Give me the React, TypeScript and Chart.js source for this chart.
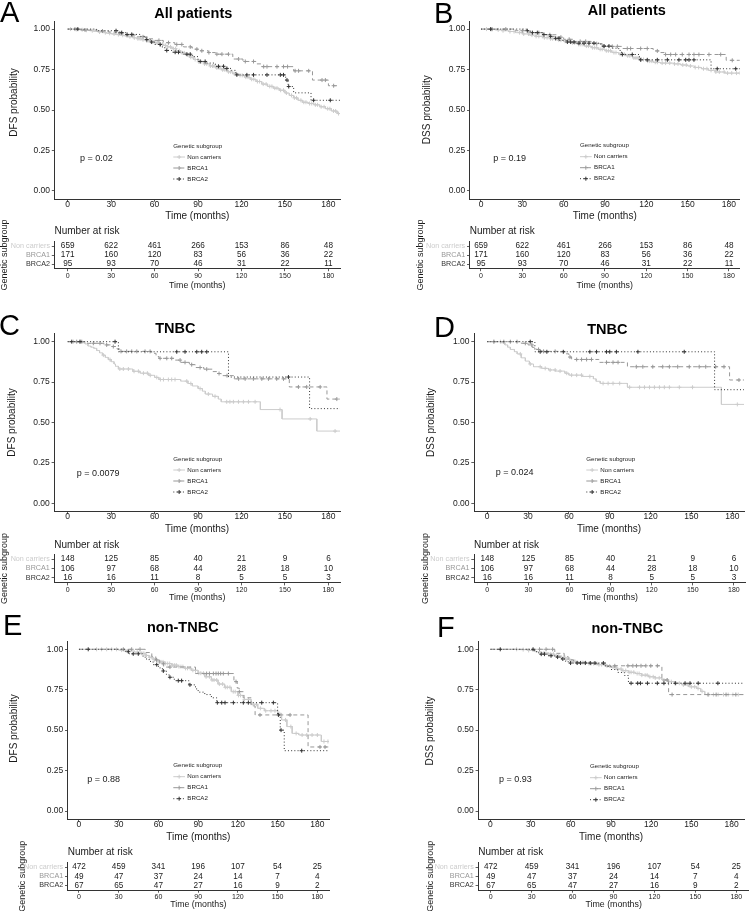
import React, { useEffect, useRef } from 'react';
import { Chart, registerables } from 'chart.js';

Chart.register(...registerables);

const FONT = "'Liberation Sans', Arial, Helvetica, sans-serif";
const W = 749;
const H = 911;

// ---------- shared labels ----------
const groupNames = ['Non carriers', 'BRCA1', 'BRCA2'];
const timeTicks = [0, 30, 60, 90, 120, 150, 180];
const probTicks = [0, 0.25, 0.5, 0.75, 1];
const followUpEnd = 189;

// ---------- numbers at risk ----------
const riskAllNc = [659, 622, 461, 266, 153, 86, 48];
const riskAllB1 = [171, 160, 120, 83, 56, 36, 22];
const riskAllB2 = [95, 93, 70, 46, 31, 22, 11];
const riskTnNc = [148, 125, 85, 40, 21, 9, 6];
const riskTnB1 = [106, 97, 68, 44, 28, 18, 10];
const riskTnB2 = [16, 16, 11, 8, 5, 5, 3];
const riskNonNc = [472, 459, 341, 196, 107, 54, 25];
const riskNonB1 = [49, 47, 37, 24, 14, 7, 4];
const riskNonB2 = [67, 65, 47, 27, 16, 9, 2];

// ---------- A: DFS, all patients ----------
const dfsAllNcT = [4, 8, 12, 15, 18, 21, 24, 27, 30, 33, 36, 39, 42, 45, 48, 51, 54, 57, 60, 63, 66, 69, 72, 75, 78, 81, 84, 87, 90, 94, 98, 102, 106, 110, 114, 118, 122, 126, 130, 134, 138, 142, 146, 150, 153, 156, 159, 162, 166, 170, 174, 178, 182, 186];
const dfsAllNcS = [0.998, 0.996, 0.993, 0.99, 0.986, 0.982, 0.978, 0.974, 0.97, 0.966, 0.962, 0.958, 0.952, 0.946, 0.94, 0.934, 0.928, 0.922, 0.915, 0.907, 0.899, 0.89, 0.879, 0.867, 0.853, 0.84, 0.826, 0.812, 0.798, 0.785, 0.772, 0.76, 0.748, 0.736, 0.724, 0.714, 0.703, 0.69, 0.676, 0.66, 0.646, 0.635, 0.622, 0.605, 0.59, 0.575, 0.56, 0.548, 0.54, 0.532, 0.52, 0.508, 0.494, 0.478];
const dfsAllNcC = [2, 6, 10, 13, 17, 22, 26, 29, 32, 35, 38, 41, 43, 46, 48.5, 50, 52, 54.5, 55.5, 57.5, 59, 61, 62, 64, 65.5, 67.5, 69, 71, 73, 74.5, 77, 79, 80.5, 83, 85, 86.5, 88, 90.5, 92, 94.5, 96, 98.5, 100, 101, 103, 104.5, 107, 108.5, 111, 112.5, 115, 116.5, 119, 120.5, 123, 124.5, 127, 128.5, 131, 132.5, 135, 137, 139.5, 141, 143, 144.5, 147, 149, 151, 154.5, 156.5, 158, 161, 163, 164.5, 167, 168.5, 171, 172.5, 175, 177, 179.5, 181, 183.5, 185, 187];
const dfsAllB1T = [8, 20, 28, 33, 40, 48, 55, 60, 66, 74, 80, 86, 90, 97, 102, 114, 121, 130, 134, 156, 169, 180];
const dfsAllB1S = [0.994, 0.988, 0.982, 0.976, 0.964, 0.952, 0.94, 0.93, 0.916, 0.905, 0.89, 0.876, 0.866, 0.855, 0.845, 0.815, 0.8, 0.785, 0.768, 0.742, 0.685, 0.65];
const dfsAllB1C = [5, 12, 24, 36, 45, 52, 63, 69.6, 75.3, 78.8, 84.6, 89.2, 92.6, 97.5, 103, 106.5, 111, 118, 122.6, 128.3, 135.3, 137.6, 144.5, 149, 151.8, 157, 159.4, 166.4, 175.6, 177.9, 183.6];
const dfsAllB2T = [20, 35, 40, 50, 54, 57, 60, 64, 67, 72, 80, 86, 90, 96, 102, 108, 113, 116, 150.5, 152.2, 156, 168];
const dfsAllB2S = [0.99, 0.978, 0.967, 0.955, 0.935, 0.92, 0.905, 0.89, 0.868, 0.857, 0.845, 0.83, 0.8, 0.79, 0.77, 0.757, 0.745, 0.717, 0.685, 0.645, 0.606, 0.56];
const dfsAllB2C = [7, 33.4, 37.3, 41, 44.2, 54.6, 58, 63.8, 68.4, 74.2, 76.5, 82.3, 84.6, 91.5, 94.9, 104.1, 107.6, 109.9, 116.8, 123.7, 128.3, 137.6, 146.8, 149, 151.4, 152.6, 169.8, 181.3];

// ---------- B: DSS, all patients ----------
const dssAllNcT = [5, 10, 15, 20, 25, 30, 35, 40, 45, 50, 55, 60, 65, 70, 75, 80, 85, 90, 95, 100, 105, 110, 115, 120, 125, 130, 140, 145, 150, 155, 160, 165, 170, 177];
const dssAllNcS = [0.998, 0.995, 0.99, 0.985, 0.978, 0.97, 0.963, 0.955, 0.947, 0.94, 0.932, 0.925, 0.915, 0.905, 0.895, 0.885, 0.875, 0.866, 0.855, 0.845, 0.835, 0.822, 0.812, 0.802, 0.795, 0.79, 0.785, 0.778, 0.772, 0.763, 0.755, 0.745, 0.735, 0.728];
const dssAllNcC = [4, 8, 12.5, 16, 21, 24, 28, 31, 34.5, 37, 40, 42, 44.5, 46, 48, 50.5, 52, 54, 56.5, 58, 61, 62.5, 64, 66.5, 68, 71, 72.5, 74, 76.5, 78, 81, 82.5, 84, 86.5, 88, 91, 92.5, 94, 96.5, 98, 101, 102.5, 104, 106.5, 108, 111, 112.5, 114, 116.5, 118, 121, 122.5, 124, 126.5, 128, 131.5, 134, 137, 140.5, 143, 146.5, 149, 152, 155.5, 158, 161.5, 164, 167, 170.5, 173, 176.5, 179, 182, 185.5, 188];
const dssAllB1T = [25, 35, 45, 55, 60, 67, 80, 88, 103, 125, 130, 133, 178];
const dssAllB1S = [0.99, 0.978, 0.965, 0.95, 0.937, 0.924, 0.91, 0.893, 0.88, 0.865, 0.855, 0.843, 0.807];
const dssAllB1C = [8, 18, 30, 42, 50, 58, 64, 72, 76, 84, 89.3, 95.3, 99, 106.2, 108.6, 115.9, 120.7, 128, 134, 137.7, 141.3, 146.1, 151, 154.6, 158.2, 165.5, 174, 182.4];
const dssAllB2T = [33, 36, 45, 50, 53, 57, 62, 68, 87, 95, 100, 102, 115, 167];
const dssAllB2S = [0.99, 0.978, 0.966, 0.955, 0.943, 0.93, 0.92, 0.913, 0.895, 0.882, 0.868, 0.843, 0.81, 0.755];
const dssAllB2C = [7, 33.6, 37.3, 40.9, 45.7, 50.6, 54.2, 56.6, 62.7, 65.1, 67.5, 71.1, 74.8, 78.4, 82, 89.3, 92.9, 102.6, 109.8, 115.9, 120.7, 128, 135.3, 143.7, 148.6, 151, 154.6, 171.5, 184.9];

// ---------- C: DFS, TNBC ----------
const dfsTnNcT = [10, 12, 14, 16, 18, 20, 22, 24, 26, 28, 30, 32, 33, 35, 45, 50, 56, 60, 63, 78, 83, 86, 90, 93, 95, 100, 104, 106, 133, 148, 172];
const dfsTnNcS = [0.993, 0.986, 0.973, 0.966, 0.959, 0.945, 0.931, 0.917, 0.903, 0.889, 0.876, 0.862, 0.848, 0.831, 0.817, 0.805, 0.792, 0.779, 0.766, 0.756, 0.741, 0.726, 0.71, 0.694, 0.676, 0.662, 0.645, 0.628, 0.58, 0.522, 0.447];
const dfsTnNcC = [3.9, 8.5, 24.6, 29.2, 36, 38.4, 41.9, 45.8, 48.8, 52.3, 55, 57, 61.5, 64, 66.1, 69.5, 71.8, 74.1, 82.2, 85, 91.4, 97.1, 101.7, 109.8, 112, 114.4, 117.9, 121.3, 124.8, 129.4, 146.6, 167.4, 184.6];
const dfsTnB1T = [12, 25, 30, 34, 36, 58, 61, 63, 74, 78, 84, 88, 94, 100, 104, 106, 115, 153, 179];
const dfsTnB1S = [0.99, 0.98, 0.97, 0.955, 0.94, 0.928, 0.908, 0.897, 0.886, 0.872, 0.858, 0.84, 0.83, 0.815, 0.803, 0.79, 0.77, 0.72, 0.645];
const dfsTnB1C = [6.2, 9.7, 17.7, 22.3, 26.9, 31.5, 36.8, 40.7, 44.2, 47.7, 53.4, 56.9, 63.8, 68.4, 71.8, 77.6, 81, 85.6, 91.4, 96, 104.5, 110, 118, 122.5, 128.2, 134, 138.6, 144.3, 149, 159.3, 165, 174.3, 185.8];
const dfsTnB2T = [35, 111, 167];
const dfsTnB2S = [0.9375, 0.7813, 0.5859];
const dfsTnB2C = [2.8, 8.5, 32.7, 75.3, 81, 89.1, 92.5, 96, 152.4];

// ---------- D: DSS, TNBC ----------
const dssTnNcT = [10, 13, 15, 17, 20, 22, 25, 28, 31, 34, 40, 45, 50, 57, 60, 70, 78, 80, 83, 103, 172];
const dssTnNcS = [0.993, 0.98, 0.966, 0.952, 0.938, 0.924, 0.9, 0.88, 0.862, 0.845, 0.835, 0.825, 0.818, 0.805, 0.793, 0.785, 0.77, 0.755, 0.742, 0.718, 0.612];
const dssTnNcC = [4.9, 9.7, 24.3, 31.6, 38.9, 42.6, 46.2, 49.9, 53.5, 58.4, 62, 65.7, 69.3, 75.4, 85.1, 88.8, 92.4, 97.3, 104.6, 111.9, 115.5, 119.2, 122.8, 126.5, 130.1, 133.8, 141.1, 150.8, 183.7];
const dssTnB1T = [25, 30, 33, 36, 40, 57, 60, 62, 82, 103, 178];
const dssTnB1S = [0.99, 0.98, 0.965, 0.952, 0.94, 0.925, 0.905, 0.89, 0.872, 0.845, 0.763];
const dssTnB1C = [4.9, 12.2, 17, 21.9, 28, 32.8, 37.7, 41.4, 49.9, 60.8, 65.7, 69.3, 73, 76.6, 87.6, 92.4, 96.1, 109.5, 114.3, 121.6, 128.9, 133.8, 139.9, 148.4, 155.7, 160.5, 167.8, 173.9, 184.9];
const dssTnB2T = [35, 167];
const dssTnB2S = [0.9375, 0.703];
const dssTnB2C = [31.6, 38.9, 43.8, 55.9, 75.4, 80.3, 87.6, 90, 94.9, 110.7, 144.7];

// ---------- E: DFS, non-TNBC ----------
const dfsNonNcT = [30, 36, 42, 47, 50, 53, 56, 60, 65, 70, 75, 80, 85, 90, 95, 100, 105, 110, 115, 120, 125, 130, 135, 140, 150, 153, 157, 161, 166, 183];
const dfsNonNcS = [0.995, 0.99, 0.982, 0.975, 0.962, 0.95, 0.935, 0.922, 0.912, 0.902, 0.893, 0.882, 0.87, 0.852, 0.83, 0.81, 0.785, 0.765, 0.738, 0.715, 0.69, 0.66, 0.635, 0.62, 0.604, 0.563, 0.522, 0.48, 0.47, 0.43];
const dfsNonNcC = [13.3, 17.1, 20.9, 24.7, 28.4, 32.2, 36.5, 44, 47.5, 49, 51, 53.5, 55, 57, 58.5, 60.5, 62, 63.5, 65.5, 67, 68.5, 70.5, 72, 73.5, 75.5, 77, 78.5, 80.5, 82, 84, 86, 88, 90.5, 92, 94, 96, 98.5, 100.5, 102, 104, 106, 108.5, 110.5, 112, 114, 116.5, 118, 120.5, 122, 125, 128, 131.5, 134, 137, 141, 145, 148, 151, 156, 160, 164, 168.5, 172, 176, 180, 185, 188];
const dfsNonB1T = [50, 55, 58, 61, 64, 88, 117, 119.5, 121, 124, 130, 133, 173];
const dfsNonB1S = [0.98, 0.955, 0.934, 0.91, 0.89, 0.85, 0.8, 0.76, 0.738, 0.7, 0.65, 0.594, 0.396];
const dfsNonB1C = [33.5, 39.8, 46.1, 58.7, 63.7, 68.7, 96.4, 98.5, 101.5, 103.5, 105.2, 107, 109, 112.8, 118.6, 121.1, 136.7, 159.4, 182, 185.8];
const dfsNonB2T = [35, 38, 48, 50, 53, 56, 60, 63, 66, 68, 72, 83, 88, 90, 95, 100, 104, 150, 152, 155];
const dfsNonB2S = [0.985, 0.972, 0.958, 0.94, 0.925, 0.905, 0.885, 0.866, 0.845, 0.827, 0.806, 0.78, 0.755, 0.735, 0.72, 0.7, 0.67, 0.594, 0.5, 0.373];
const dfsNonB2C = [7, 37.3, 41, 44.8, 58.7, 63.7, 68.7, 75, 77.5, 83.8, 104.5, 107.8, 110.3, 116.6, 124.1, 127.9, 138, 146.8, 150.6, 152.6, 168.2];

// ---------- F: DSS, non-TNBC ----------
const dssNonNcT = [20, 28, 33, 38, 43, 48, 52, 56, 60, 65, 72, 80, 86, 90, 94, 98, 103, 108, 113, 118, 123, 128, 133, 138, 143, 148, 154, 157, 160];
const dssNonNcS = [0.998, 0.993, 0.985, 0.978, 0.97, 0.96, 0.95, 0.938, 0.926, 0.918, 0.912, 0.905, 0.897, 0.89, 0.878, 0.868, 0.858, 0.85, 0.84, 0.83, 0.823, 0.81, 0.8, 0.79, 0.78, 0.768, 0.758, 0.74, 0.72];
const dssNonNcC = [19.5, 24.4, 28.5, 40, 43.5, 45, 47, 49.5, 51, 53, 55.5, 57, 59, 61.5, 63, 65, 67.5, 69, 71, 73.5, 75, 77, 79.5, 81, 83, 85.5, 87, 89, 91.5, 93, 95, 97.5, 99, 101, 103.5, 105, 107, 109.5, 111, 113, 115.5, 117, 119, 121.5, 123, 126, 129.5, 132, 135, 138.5, 141, 144, 147.5, 150, 152.5, 155, 158, 163, 166.5, 170, 174, 177.5, 181, 185];
const dssNonB1T = [48, 55, 58, 62, 75, 85, 128, 133];
const dssNonB1S = [0.975, 0.955, 0.935, 0.92, 0.91, 0.898, 0.81, 0.72];
const dssNonB1C = [36.6, 41.5, 46.4, 92.8, 102.6, 106.3, 109, 112.4, 116, 119.7, 124.6, 131.9, 135.6, 162.4, 168.5, 175.9, 183.2];
const dssNonB2T = [33, 36, 43, 48, 53, 56, 58, 86, 90, 95, 100, 103];
const dssNonB2S = [0.985, 0.97, 0.96, 0.952, 0.94, 0.925, 0.915, 0.893, 0.875, 0.857, 0.838, 0.79];
const dssNonB2C = [7.3, 31.8, 37.9, 40.3, 45.2, 50.1, 54, 59.8, 64.7, 67.2, 70.8, 74.5, 78, 84.3, 105, 109.9, 112, 117.2, 124.6, 129.5, 138, 145.3, 149, 155.1, 169.8];

// ---------- styles ----------
const groupColors = ['#cccccc', '#989898', '#333333'];
const groupDash: number[][] = [[], [4, 3], [1, 2.2]];
const TEXT = '#1a1a1a';
const AXIS = '#333333';

type Curve = [number[], number[], number[]];
interface Lay {
  l: number; r: number; t: number; b: number; xMin: number; xMax: number;
  yTitleX: number; yTitleY: number; xTitleY: number;
  tt: number; tb: number; tTitleY: number; tYTitleX: number; tXTitleY: number;
  letterX: number; letterY: number; titleX: number; titleY: number;
  pX: number; pY: number; legX: number; legY: number;
}
interface PanelDef {
  letter: string; title: string; yTitle: string; p: string;
  curves: Curve[]; risk: number[][]; lay: Lay;
}

const PANELS: PanelDef[] = [
  {
    letter: 'A', title: 'All patients', yTitle: 'DFS probability', p: 'p = 0.02',
    curves: [[dfsAllNcT, dfsAllNcS, dfsAllNcC], [dfsAllB1T, dfsAllB1S, dfsAllB1C], [dfsAllB2T, dfsAllB2S, dfsAllB2C]],
    risk: [riskAllNc, riskAllB1, riskAllB2],
    lay: { l: 54.5, r: 340, t: 21, b: 199, xMin: -9.1, xMax: 188, yTitleX: 14.2, yTitleY: 102.5, xTitleY: 216.2,
      tt: 241.5, tb: 268.5, tTitleY: 231.7, tYTitleX: 4.5, tXTitleY: 285.3,
      letterX: 0, letterY: 22, titleX: 193.3, titleY: 18.3, pX: 80, pY: 159, legX: 173.3, legY: 146 },
  },
  {
    letter: 'B', title: 'All patients', yTitle: 'DSS probability', p: 'p = 0.19',
    curves: [[dssAllNcT, dssAllNcS, dssAllNcC], [dssAllB1T, dssAllB1S, dssAllB1C], [dssAllB2T, dssAllB2S, dssAllB2C]],
    risk: [riskAllNc, riskAllB1, riskAllB2],
    lay: { l: 469.7, r: 739.7, t: 21, b: 199, xMin: -8.2, xMax: 187.8, yTitleX: 427.3, yTitleY: 109.7, xTitleY: 216,
      tt: 241.5, tb: 268.5, tTitleY: 231.7, tYTitleX: 420.5, tXTitleY: 285.3,
      letterX: 434, letterY: 23, titleX: 626.8, titleY: 15, pX: 493.3, pY: 159, legX: 580, legY: 145.7 },
  },
  {
    letter: 'C', title: 'TNBC', yTitle: 'DFS probability', p: 'p = 0.0079',
    curves: [[dfsTnNcT, dfsTnNcS, dfsTnNcC], [dfsTnB1T, dfsTnB1S, dfsTnB1C], [dfsTnB2T, dfsTnB2S, dfsTnB2C]],
    risk: [riskTnNc, riskTnB1, riskTnB2],
    lay: { l: 54.3, r: 340, t: 333.6, b: 511.4, xMin: -9.25, xMax: 188, yTitleX: 12.2, yTitleY: 422.5, xTitleY: 529.5,
      tt: 554.3, tb: 582.7, tTitleY: 545.5, tYTitleX: 4.5, tXTitleY: 597.5,
      letterX: -1, letterY: 335, titleX: 175.3, titleY: 333.3, pX: 76.7, pY: 473.3, legX: 173.3, legY: 459 },
  },
  {
    letter: 'D', title: 'TNBC', yTitle: 'DSS probability', p: 'p = 0.024',
    curves: [[dssTnNcT, dssTnNcS, dssTnNcC], [dssTnB1T, dssTnB1S, dssTnB1C], [dssTnB2T, dssTnB2S, dssTnB2C]],
    risk: [riskTnNc, riskTnB1, riskTnB2],
    lay: { l: 474, r: 745.7, t: 333.6, b: 511.4, xMin: -9.7, xMax: 188.6, yTitleX: 431.5, yTitleY: 422.5, xTitleY: 529.5,
      tt: 554.3, tb: 582.7, tTitleY: 545.5, tYTitleX: 426, tXTitleY: 597.5,
      letterX: 434, letterY: 337, titleX: 607.3, titleY: 334.3, pX: 495.7, pY: 472.7, legX: 586.3, legY: 459 },
  },
  {
    letter: 'E', title: 'non-TNBC', yTitle: 'DFS probability', p: 'p = 0.88',
    curves: [[dfsNonNcT, dfsNonNcS, dfsNonNcC], [dfsNonB1T, dfsNonB1S, dfsNonB1C], [dfsNonB2T, dfsNonB2S, dfsNonB2C]],
    risk: [riskNonNc, riskNonB1, riskNonB2],
    lay: { l: 67.7, r: 329, t: 641.2, b: 819.1, xMin: -8.5, xMax: 188.8, yTitleX: 14.7, yTitleY: 728.5, xTitleY: 837.5,
      tt: 862.5, tb: 890, tTitleY: 852.5, tYTitleX: 22.5, tXTitleY: 905,
      letterX: 3, letterY: 635, titleX: 182.8, titleY: 632.3, pX: 87.3, pY: 780, legX: 173.3, legY: 765.7 },
  },
  {
    letter: 'F', title: 'non-TNBC', yTitle: 'DSS probability', p: 'p = 0.93',
    curves: [[dssNonNcT, dssNonNcS, dssNonNcC], [dssNonB1T, dssNonB1S, dssNonB1C], [dssNonB2T, dssNonB2S, dssNonB2C]],
    risk: [riskNonNc, riskNonB1, riskNonB2],
    lay: { l: 478.3, r: 749, t: 641.2, b: 819.1, xMin: -9.1, xMax: 189.3, yTitleX: 430.7, yTitleY: 731, xTitleY: 837.5,
      tt: 862.5, tb: 890, tTitleY: 852.5, tYTitleX: 430.7, tXTitleY: 905,
      letterX: 437, letterY: 636.5, titleX: 627.3, titleY: 633.3, pX: 499, pY: 780, legX: 590, legY: 766.7 },
  },
];

function survAt(T: number[], S: number[], t: number): number {
  let v = 1;
  for (let i = 0; i < T.length; i++) if (T[i] <= t) v = S[i];
  return v;
}

const kmDecor = {
  id: 'kmDecor',
  afterDraw(chart: any, _args: any, o: any) {
    const ctx: CanvasRenderingContext2D = chart.ctx;
    ctx.save();
    ctx.fillStyle = '#000';
    ctx.textAlign = 'left';
    ctx.textBaseline = 'alphabetic';
    ctx.font = `29px ${FONT}`;
    ctx.fillText(o.letter, o.letterX, o.letterY);
    ctx.font = `bold 14.5px ${FONT}`;
    ctx.textAlign = 'center';
    ctx.fillText(o.title, o.titleX, o.titleY);
    // y axis title
    ctx.save();
    ctx.translate(o.yTitleX, o.yTitleY);
    ctx.rotate(-Math.PI / 2);
    ctx.font = `10px ${FONT}`;
    ctx.textAlign = 'center';
    ctx.textBaseline = 'middle';
    ctx.fillStyle = TEXT;
    ctx.fillText(o.yTitle, 0, 0);
    ctx.restore();
    // p value
    ctx.font = `9px ${FONT}`;
    ctx.textAlign = 'left';
    ctx.textBaseline = 'middle';
    ctx.fillStyle = TEXT;
    ctx.fillText(o.p, o.pX, o.pY);
    // legend
    ctx.font = `6.2px ${FONT}`;
    ctx.fillStyle = '#222';
    ctx.fillText('Genetic subgroup', o.legX, o.legY);
    groupNames.forEach((name, g) => {
      const y = o.legY + 11 * (g + 1);
      ctx.strokeStyle = groupColors[g];
      ctx.lineWidth = 1;
      ctx.setLineDash(groupDash[g]);
      ctx.beginPath();
      ctx.moveTo(o.legX, y);
      ctx.lineTo(o.legX + 11.7, y);
      ctx.stroke();
      ctx.setLineDash([]);
      const cx = o.legX + 5.85;
      ctx.beginPath();
      ctx.moveTo(cx - 2, y);
      ctx.lineTo(cx + 2, y);
      ctx.moveTo(cx, y - 2);
      ctx.lineTo(cx, y + 2);
      ctx.stroke();
      ctx.fillStyle = '#222';
      ctx.fillText(name, o.legX + 14, y);
    });
    ctx.restore();
  },
};

const riskText = {
  id: 'riskText',
  afterDatasetsDraw(chart: any) {
    const ctx: CanvasRenderingContext2D = chart.ctx;
    ctx.save();
    ctx.font = `8.2px ${FONT}`;
    ctx.fillStyle = TEXT;
    ctx.textAlign = 'center';
    ctx.textBaseline = 'middle';
    chart.data.datasets.forEach((ds: any, di: number) => {
      const meta = chart.getDatasetMeta(di);
      meta.data.forEach((el: any, i: number) => {
        ctx.fillText(String(ds.counts[i]), el.x, el.y);
      });
    });
    ctx.restore();
  },
};

function kmConfig(p: PanelDef): any {
  const L = p.lay;
  const datasets: any[] = [];
  p.curves.forEach(([T, S, C], g) => {
    const pts: { x: number; y: number }[] = [{ x: 0, y: 1 }];
    let prev = 1;
    T.forEach((t, i) => {
      pts.push({ x: t, y: prev });
      pts.push({ x: t, y: S[i] });
      prev = S[i];
    });
    pts.push({ x: followUpEnd, y: prev });
    datasets.push({
      type: 'line', data: pts, borderColor: groupColors[g], borderWidth: 1, borderDash: groupDash[g],
      pointRadius: 0, fill: false, tension: 0, order: 10 - 2 * g,
    });
    datasets.push({
      type: 'line', data: C.map((c) => ({ x: c, y: survAt(T, S, c) })), showLine: false,
      pointStyle: 'cross', pointRadius: 2, pointBorderWidth: 1, pointBorderColor: groupColors[g],
      pointBackgroundColor: groupColors[g], order: 9 - 2 * g,
    });
  });
  const padLeft = L.l - 50;
  return {
    type: 'line',
    data: { datasets },
    options: {
      animation: false, responsive: false, events: [],
      layout: { padding: { left: padLeft, right: W - L.r, top: L.t, bottom: H - (L.xTitleY + 6) } },
      plugins: {
        legend: { display: false }, tooltip: { enabled: false }, title: { display: false },
        kmDecor: { letter: p.letter, title: p.title, yTitle: p.yTitle, p: p.p, ...L },
      },
      scales: {
        x: {
          type: 'linear', min: L.xMin, max: L.xMax,
          afterBuildTicks: (s: any) => { s.ticks = timeTicks.map((v) => ({ value: v })); },
          afterFit: (s: any) => { s.height = L.xTitleY + 6 - L.b; },
          grid: { display: true, drawOnChartArea: false, drawTicks: true, tickLength: 2.7, tickColor: AXIS, tickWidth: 0.8 },
          border: { display: true, color: AXIS, width: 1 },
          ticks: { font: { size: 8.5, family: FONT, lineHeight: 1 }, color: TEXT, padding: -1.4, maxRotation: 0, autoSkip: false, callback: (v: any) => String(v) },
          title: { display: true, text: 'Time (months)', font: { size: 10, family: FONT, lineHeight: 1.2 }, color: TEXT, padding: 0 },
        },
        y: {
          type: 'linear', min: -0.05, max: 1.05,
          afterBuildTicks: (s: any) => { s.ticks = probTicks.map((v) => ({ value: v })); },
          afterFit: (s: any) => { s.width = L.l - padLeft; },
          grid: { display: true, drawOnChartArea: false, drawTicks: true, tickLength: 2.7, tickColor: AXIS, tickWidth: 0.8 },
          border: { display: true, color: AXIS, width: 1 },
          ticks: { font: { size: 8.5, family: FONT, lineHeight: 1 }, color: TEXT, padding: 1.8, autoSkip: false, callback: (v: any) => Number(v).toFixed(2) },
          title: { display: false },
        },
      },
    },
    plugins: [kmDecor],
  };
}

function riskConfig(p: PanelDef): any {
  const L = p.lay;
  const padLeft = L.tYTitleX - 4.5;
  const padTop = L.tTitleY - 6;
  const datasets = p.risk.map((counts, gi) => ({
    data: timeTicks.map((t) => ({ x: t, y: groupNames[gi] })),
    counts,
    pointRadius: 0,
    showLine: false,
  }));
  return {
    type: 'scatter',
    data: { datasets },
    options: {
      animation: false, responsive: false, events: [],
      layout: { padding: { left: padLeft, right: W - L.r, top: padTop, bottom: H - (L.tXTitleY + 4.4) } },
      plugins: {
        legend: { display: false }, tooltip: { enabled: false },
        title: {
          display: true, text: 'Number at risk', align: 'start', fullSize: false, color: TEXT,
          font: { size: 10, family: FONT, lineHeight: 1.2, weight: 'normal' },
          padding: { top: 0, bottom: L.tt - padTop - 12 },
        },
      },
      scales: {
        x: {
          type: 'linear', min: L.xMin, max: L.xMax,
          afterBuildTicks: (s: any) => { s.ticks = timeTicks.map((v) => ({ value: v })); },
          afterFit: (s: any) => { s.height = L.tXTitleY + 4.4 - L.tb; },
          grid: { display: true, drawOnChartArea: false, drawTicks: true, tickLength: 2.7, tickColor: AXIS, tickWidth: 0.8 },
          border: { display: true, color: AXIS, width: 1 },
          ticks: { font: { size: 7, family: FONT, lineHeight: 1 }, color: TEXT, padding: 1.3, maxRotation: 0, autoSkip: false, callback: (v: any) => String(v) },
          title: { display: true, text: 'Time (months)', font: { size: 8.8, family: FONT, lineHeight: 1 }, color: TEXT, padding: 0 },
        },
        y: {
          type: 'category', labels: groupNames, offset: true,
          afterFit: (s: any) => { s.width = L.l - padLeft; },
          grid: { display: true, drawOnChartArea: false, drawTicks: true, tickLength: 2.7, tickColor: AXIS, tickWidth: 0.8, offset: false },
          border: { display: true, color: AXIS, width: 1 },
          ticks: { font: { size: 7.2, family: FONT, lineHeight: 1 }, color: (c: any) => groupColors[c.index] || TEXT, padding: 1.8, autoSkip: false },
          title: { display: true, text: 'Genetic subgroup', font: { size: 9, family: FONT, lineHeight: 1 }, color: TEXT, padding: 0 },
        },
      },
    },
    plugins: [riskText],
  };
}

export default function App() {
  const refs = useRef<(HTMLCanvasElement | null)[]>([]);
  useEffect(() => {
    const charts: Chart[] = [];
    PANELS.forEach((p, i) => {
      const c1 = refs.current[i * 2];
      const c2 = refs.current[i * 2 + 1];
      if (c1) charts.push(new Chart(c1, kmConfig(p)));
      if (c2) charts.push(new Chart(c2, riskConfig(p)));
    });
    return () => charts.forEach((c) => c.destroy());
  }, []);
  return (
    <div style={{ position: 'absolute', left: 0, top: 0, width: W, height: H, background: '#ffffff', overflow: 'hidden' }}>
      {Array.from({ length: PANELS.length * 2 }).map((_, k) => (
        <canvas
          key={k}
          ref={(el) => { refs.current[k] = el; }}
          width={W}
          height={H}
          style={{ position: 'absolute', left: 0, top: 0 }}
        />
      ))}
    </div>
  );
}
